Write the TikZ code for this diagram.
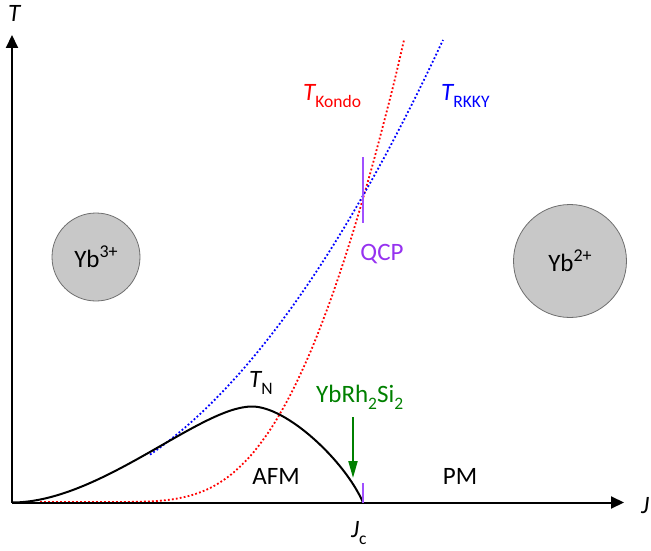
\documentclass[tikz,border=0pt]{standalone}
\usepackage{fontspec}
\setmainfont{Carlito}
\usetikzlibrary{arrows.meta}
\definecolor{kred}{RGB}{255,0,0}
\definecolor{rblue}{RGB}{0,0,255}
\definecolor{qcpc}{RGB}{150,50,240}
\definecolor{qcpl}{RGB}{160,80,255}
\definecolor{ybgreen}{RGB}{0,128,0}
\definecolor{ionfill}{RGB}{200,200,200}
\definecolor{ionline}{RGB}{110,110,110}
\newcommand\mysub[1]{\raisebox{-7pt}{\fontsize{17.5}{18}\selectfont #1}}
\newcommand\mysup[1]{\raisebox{10pt}{\fontsize{18}{18}\selectfont #1}}
\tikzset{
  lab/.style={font=\fontsize{25}{28}\selectfont, inner sep=0pt},
  axisline/.style={line width=2pt, -{Triangle[length=13pt,width=12pt]}},
  dotline/.style={line width=1.8pt, dash pattern=on 1.8pt off 2.2pt},
  ion/.style={circle, fill=ionfill, draw=ionline, line width=0.8pt, inner sep=0pt, font=\fontsize{25}{28}\selectfont},
  marker/.style={qcpl, line width=2.4pt}
}
\begin{document}
\begin{tikzpicture}[x=1pt,y=-1pt]
\useasboundingbox (0,0) rectangle (651,551);
% coordinates
\coordinate (O) at (12,502.5);
\coordinate (Ttip) at (12,35);
\coordinate (Jtip) at (624,502.5);
\coordinate (Jc) at (363,502.5);
\coordinate (JcTop) at (363,483);
\coordinate (QT) at (363,157);
\coordinate (QB) at (363,223);
\coordinate (GA) at (353,417);
\coordinate (GB) at (353,478);
\coordinate (peak) at (252,406.5);
% Kondo (red)
\draw[dotline, kred] plot[smooth] coordinates {
 (40,502) (112,502) (132,501.9) (152,501.3) (172,499.4) (192,495.1) (212,487.1)
 (232,473.8) (252,454.1) (272,426.9) (292,391.7) (312,348.1) (332,295.9)
 (352,235.4) (372,166.9) (392,90.8) (404,40)};
% RKKY (blue)
\draw[dotline, rblue] plot[domain=138:431, samples=60] ({12+\x},{502-0.00249*\x*\x});
% T_N (black)
\draw[line width=2pt, line join=round] (O)
  .. controls (100,502.5) and (200,406.5) .. (peak)
  .. controls (287,406.5) and (345,461) .. (Jc);
% axes
\draw[axisline] (O) -- (Ttip);
\draw[axisline] (O) -- (Jtip);
% markers
\draw[marker] (QT) -- (QB);
\draw[marker] (JcTop) -- (Jc);
\draw[ybgreen, line width=2pt, -{Triangle[length=17pt,width=9pt]}] (GA) -- (GB);
% ions
\node[ion, minimum size=88pt] (yb3) at (96,257) {Yb\mysup{3+}};
\node[ion, minimum size=113pt] (yb2) at (570,261) {Yb\mysup{2+}};
% labels
\node[lab, anchor=base west] (Tlab) at (8,22) {\itshape T};
\node[lab, anchor=base west] (Jlab) at (641,513) {\itshape J};
\node[lab, anchor=base west] (Jclab) at (351,537) {\itshape J\mysub{\upshape c}};
\node[lab, kred, anchor=base west] (TK) at (303,100) {\itshape T\mysub{\upshape Kondo}};
\node[lab, rblue, anchor=base west] (TR) at (441,100) {\itshape T\mysub{\upshape RKKY}};
\node[lab, anchor=base west] (TN) at (249,387) {\itshape T\mysub{\upshape N}};
\node[lab, qcpc] (QCP) at (382,254) {QCP};
\node[lab, ybgreen, anchor=base west] (ybrh) at (316,402) {YbRh\mysub{2}Si\mysub{2}};
\node[lab] (AFM) at (276,476) {AFM};
\node[lab] (PM) at (460,476) {PM};
\end{tikzpicture}
\end{document}
